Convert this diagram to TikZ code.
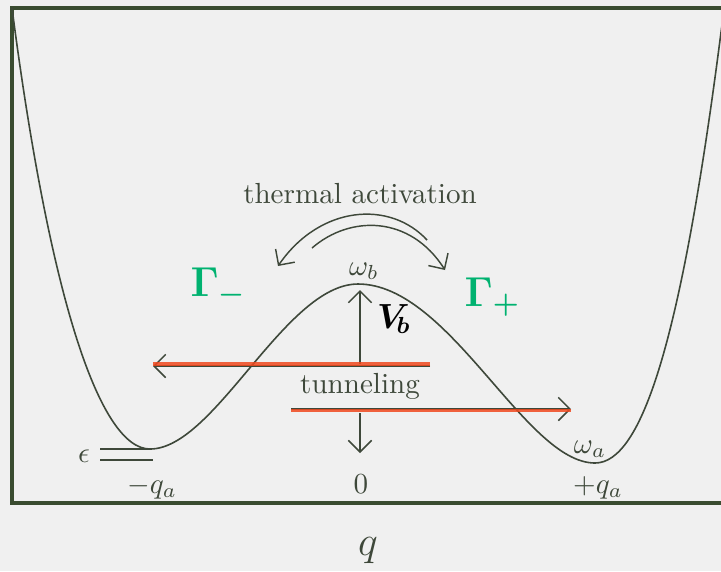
\documentclass[tikz,border=0pt]{standalone}
\usepackage{amsmath,bm}
\usetikzlibrary{arrows.meta}
\definecolor{bgc}{RGB}{240,240,240}
\definecolor{ink}{RGB}{62,72,58}
\definecolor{framec}{RGB}{58,76,48}
\definecolor{redh}{RGB}{240,72,30}
\definecolor{gam}{RGB}{0,178,112}
\tikzset{
  lbl/.style={text=ink, inner sep=0pt, anchor=base},
  curvel/.style={draw=ink, line width=0.55pt},
  barb/.style={draw=ink, line width=0.5pt, -{Straight Barb[length=4pt,width=8pt]}},
  redline/.style={draw=redh, line width=1.1pt, opacity=0.85},
  gamlbl/.style={text=gam, inner sep=0pt, anchor=base west, font=\fontsize{14}{14}\selectfont},
}
\begin{document}
\begin{tikzpicture}[x=0.344pt,y=-0.344pt]
\fill[bgc] (0,0) rectangle (721,571);
\useasboundingbox (0,0) rectangle (721,571);
\begin{scope}
\clip (0,0) rectangle (721,571);
% frame
\draw[framec, line width=1.2pt] (730,8) -- (12,8) -- (12,503) -- (730,503);
% potential curve
\draw[curvel] (12,8) .. controls (50,300) and (100,449) .. (150,449)
  .. controls (215,449) and (285,284) .. (358,284)
  .. controls (450,284) and (525,463) .. (595,463)
  .. controls (642,463) and (681,340) .. (720,40) -- (724,10);
\end{scope}
% epsilon levels
\coordinate (e1a) at (100,449); \coordinate (e1b) at (150,449);
\coordinate (e2a) at (100,460); \coordinate (e2b) at (153,460);
\draw[ink, line width=0.55pt] (e1a) -- (e1b);
\draw[ink, line width=0.55pt] (e2a) -- (e2b);
% barrier height arrows
\coordinate (vu0) at (360,364); \coordinate (vu1) at (360,290);
\coordinate (vd0) at (360,413); \coordinate (vd1) at (360,453);
\draw[barb] (vu0) -- (vu1);
\draw[barb] (vd0) -- (vd1);
% tunneling arrows
\coordinate (tl0) at (430,366); \coordinate (tl1) at (153,366);
\coordinate (tr0) at (291,409); \coordinate (tr1) at (571,409);
\draw[barb] (tl0) -- (tl1);
\draw[redline] ([yshift=0.7pt]tl0) -- ([yshift=0.7pt]tl1);
\draw[barb] (tr0) -- (tr1);
\draw[redline] ([yshift=-0.6pt]tr0) -- ([yshift=-0.6pt]tr1);
% thermal activation arcs
\coordinate (a1s) at (427,240); \coordinate (a1e) at (278,266);
\coordinate (a2s) at (312,248); \coordinate (a2e) at (445,270);
\draw[barb] (a1s) .. controls (390,200) and (320,205) .. (a1e);
\draw[barb] (a2s) .. controls (350,215) and (410,215) .. (a2e);
% labels
\node[lbl] (lth) at (360,203) {thermal activation};
\node[lbl] (ltu) at (360,393) {tunneling};
\node[lbl] (lwb) at (364,275) {$\omega_b$};
\node[lbl] (lwa) at (590,453) {$\omega_a$};
\node[lbl] (leps) at (84,462) {$\epsilon$};
\node[lbl] (lmq) at (152,493) {$-q_a$};
\node[lbl] (lz) at (361,493) {$0$};
\node[lbl] (lpq) at (598,493) {$+q_a$};
\node[lbl, font=\Large] (lq) at (368,555) {$q$};
\node[inner sep=0pt, text=black, font=\fontsize{12}{12}\selectfont] (lvb) at (394,319) {$\boldsymbol{V}_{\!\boldsymbol{b}}$};
\node[gamlbl] (gm) at (190,296) {$\boldsymbol{\Gamma}_{\boldsymbol{-}}$};
\node[gamlbl] (gp) at (464,306) {$\boldsymbol{\Gamma}_{\boldsymbol{+}}$};
\end{tikzpicture}
\end{document}
